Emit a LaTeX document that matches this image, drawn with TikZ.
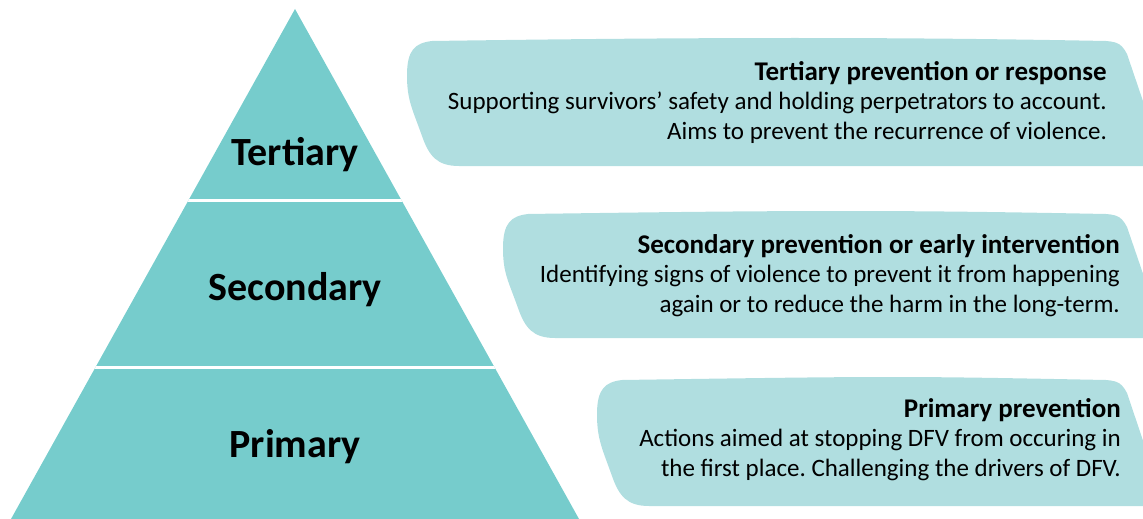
\documentclass[tikz,border=0pt]{standalone}
\usepackage{fontspec}
\setmainfont{Carlito}
\frenchspacing
\definecolor{pyramid}{RGB}{118,204,204}
\definecolor{bubble}{RGB}{176,222,224}
\tikzset{
  tierlabel/.style = {font = \fontsize{40}{48}\selectfont\bfseries, anchor = base},
  bubbletext/.style = {align = right, anchor = north east, inner sep = 0pt,
    font = \fontsize{25}{29.5}\selectfont},
}
\newcommand\heading[1]{{\fontsize{27}{29.5}\selectfont\bfseries #1}}
\newcommand\bubble[3]{% left, top, bottom
  \fill[bubble] (#1+25,#2+1) .. controls (#1+300,#2-3) and (900,#2-3) .. (1106,#2+1)
    .. controls (1119,#2+2) and (1122,#2+5) .. (1127,#2+14) -- (1165,#3) -- (#1+52,#3)
    .. controls (#1+30,#3) and (#1+22,#3-10) .. (#1+15,#3-30)
    .. controls (#1+5,#3-58) and (#1,#2+60) .. (#1,#2+35)
    .. controls (#1,#2+10) and (#1+8,#2+3) .. (#1+25,#2+1) -- cycle;}
\begin{document}
\begin{tikzpicture}[x = 1pt, y = -1pt]
\clip (0,0) rectangle (1143,519);
\fill[pyramid] (295,9) -- (579,519) -- (11,519) -- cycle;
\begin{scope}
\clip (295,9) -- (579,519) -- (11,519) -- cycle;
\foreach \y in {200,367} \draw[white, line width = 3] (0,\y) -- (600,\y);
\end{scope}
\node[tierlabel] (tertiary) at (295,165) {Tertiary};
\node[tierlabel] (secondary) at (295,300) {Secondary};
\node[tierlabel] (primary) at (295,457) {Primary};
\bubble{407}{40}{166}
\bubble{503}{213}{338}
\bubble{597}{379}{506}
\node[bubbletext] (tertiarytext) at (1107,61) {\heading{Tertiary prevention or response}\\
  Supporting survivors’ safety and holding perpetrators to account.\\
  Aims to prevent the recurrence of violence.};
\node[bubbletext] (secondarytext) at (1120,234) {\heading{Secondary prevention or early intervention}\\
  Identifying signs of violence to prevent it from happening\\
  again or to reduce the harm in the long-term.};
\node[bubbletext] (primarytext) at (1121,398) {\heading{Primary prevention}\\
  Actions aimed at stopping DFV from occuring in\\
  the first place. Challenging the drivers of DFV.};
\end{tikzpicture}
\end{document}
